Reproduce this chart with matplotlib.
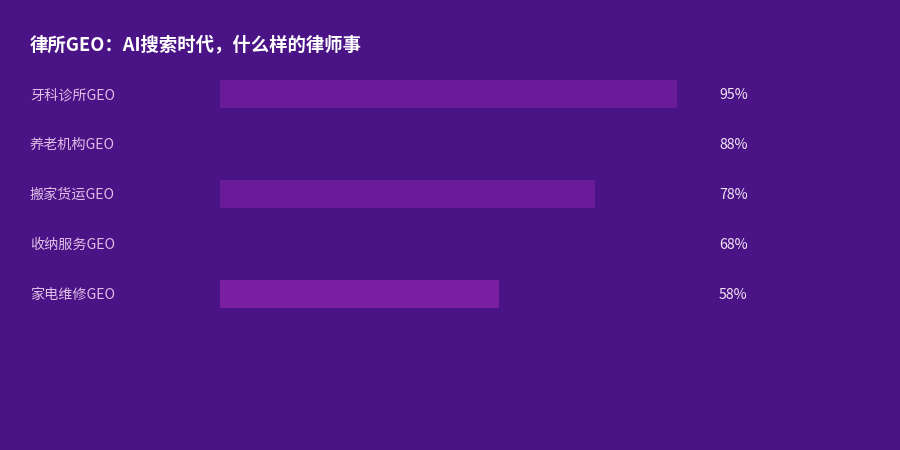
import matplotlib.pyplot as plt
import matplotlib.transforms as mtransforms

plt.rcParams['font.family'] = ['Noto Sans CJK SC', 'DejaVu Sans']

categories = ['牙科诊所GEO', '养老机构GEO', '搬家货运GEO', '收纳服务GEO', '家电维修GEO']
values = [95, 88, 78, 68, 58]
value_labels = ['95%', '88%', '78%', '68%', '58%']

bg = '#4a1486'
label_color = '#e1bee7'
# the 88% and 68% bars blend into the background in the reference
bar_colors = ['#6a1b9a', bg, '#6a1b9a', bg, '#7b1fa2']

fig = plt.figure(figsize=(9, 4.5), dpi=100)
fig.patch.set_facecolor(bg)

# axes: x 220..701 px, y rows 69..319 px
ax = fig.add_axes([220 / 900, (450 - 319) / 450, 481 / 900, 250 / 450])
ax.set_facecolor(bg)

ypos = list(range(len(categories)))
ax.barh(ypos, values, height=0.56, color=bar_colors, edgecolor='none')
ax.set_xlim(0, 100)
ax.set_ylim(len(categories) - 0.5, -0.5)
ax.axis('off')

trans = mtransforms.blended_transform_factory(fig.transFigure, ax.transData)
for y, cat, lab in zip(ypos, categories, value_labels):
    ax.text(30 / 900, y + 0.02, cat, transform=trans, ha='left', va='center',
            fontsize=10.2, color=label_color)
    ax.text(719 / 900, y + 0.02, lab, transform=trans, ha='left', va='center',
            fontsize=10.2, color='#f3e5f5')

fig.text(30 / 900, 1 - 45 / 450, '律所GEO：AI搜索时代，什么样的律师事',
         ha='left', va='center', fontsize=13.2, fontweight='bold', color='white')

fig.savefig('out.png', dpi=100, facecolor=bg)
